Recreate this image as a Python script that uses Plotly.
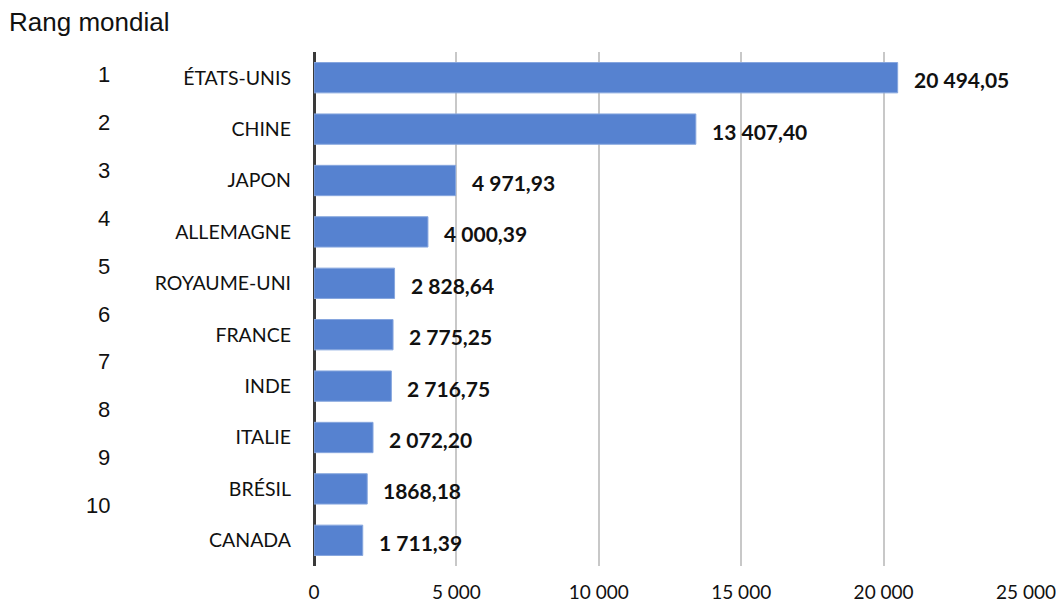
import plotly.graph_objects as go

# PIB 2018, en milliards de dollars US
pays = ["ÉTATS-UNIS", "CHINE", "JAPON", "ALLEMAGNE", "ROYAUME-UNI",
        "FRANCE", "INDE", "ITALIE", "BRÉSIL", "CANADA"]
pib = [20494.05, 13407.40, 4971.93, 4000.39, 2828.64,
       2775.25, 2716.75, 2072.20, 1868.18, 1711.39]
etiquettes = ["20 494,05", "13 407,40", "4 971,93", "4 000,39", "2 828,64",
              "2 775,25", "2 716,75", "2 072,20", "1868,18", "1 711,39"]
rangs = ["1", "2", "3", "4", "5", "6", "7", "8", "9", "10"]
graduations = [0, 5000, 10000, 15000, 20000, 25000]
graduations_txt = ["0", "5 000", "10 000", "15 000", "20 000", "25 000"]

W, H = 1056, 606
M_L, M_R, M_T, M_B = 314, 30, 52, 40

fig = go.Figure()
fig.add_trace(go.Bar(
    x=pib, y=pays, orientation="h",
    marker=dict(color="#5682D0", line=dict(color="#86A6DE", width=1)),
    hoverinfo="skip",
))

# valeurs en gras à droite des barres
for p, v, t in zip(pays, pib, etiquettes):
    fig.add_annotation(x=v, y=p, text=f"<b>{t}</b>", showarrow=False,
                       xanchor="left", xshift=14, yshift=-2,
                       font=dict(family="Lato", size=21, color="#111111"))

# colonne des rangs
y0, pas = 75, 47.8
for i, r in enumerate(rangs):
    fig.add_annotation(xref="paper", yref="paper",
                       x=(112 - M_L) / (W - M_L - M_R),
                       y=1 - (y0 + i * pas - M_T) / (H - M_T - M_B),
                       text=r, showarrow=False, xanchor="right", yanchor="middle",
                       font=dict(family="Liberation Sans", size=22, color="#111111"))

fig.add_annotation(xref="paper", yref="paper",
                   x=-(M_L - 7) / (W - M_L - M_R),
                   y=1 + (M_T - 22) / (H - M_T - M_B),
                   text="Rang mondial", showarrow=False,
                   xanchor="left", yanchor="middle",
                   font=dict(family="Liberation Sans", size=26, color="#111111"))

fig.update_layout(
    width=W, height=H,
    margin=dict(l=M_L, r=M_R, t=M_T, b=M_B, autoexpand=False),
    paper_bgcolor="white", plot_bgcolor="white",
    bargap=0.41, showlegend=False,
    xaxis=dict(range=[0, 25000], tickvals=graduations, ticktext=graduations_txt,
               automargin=False,
               showgrid=True, gridcolor="#C8C8C8", gridwidth=1.5,
               zeroline=True, zerolinecolor="#3A3A3A", zerolinewidth=3,
               showline=False, ticks="", ticklabelstandoff=13,
               tickfont=dict(family="Lato", size=19, color="#111111")),
    yaxis=dict(autorange="reversed", showgrid=False, showline=False,
               automargin=False,
               ticks="", ticklabelstandoff=22,
               tickfont=dict(family="Lato", size=19.5, color="#111111")),
)

fig.write_html("out.html")
